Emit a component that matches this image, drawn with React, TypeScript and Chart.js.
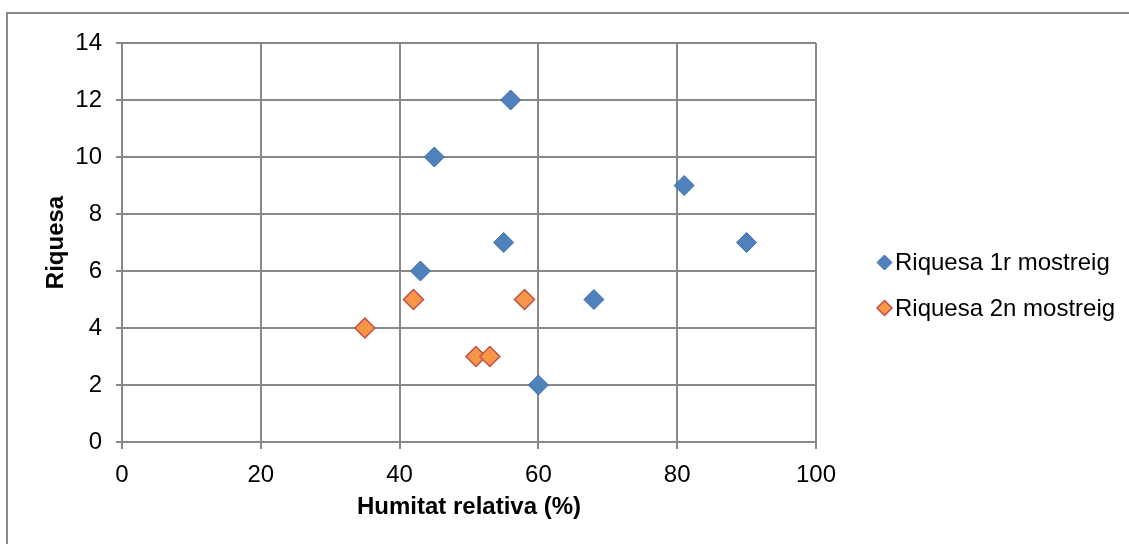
import React, { useEffect, useRef } from "react";
import { Chart, registerables } from "chart.js";

Chart.register(...registerables);

const series1Name = "Riquesa 1r mostreig";
const series2Name = "Riquesa 2n mostreig";
const series1X = [45, 56, 81, 90, 55, 43, 68, 60];
const series1Y = [10, 12, 9, 7, 7, 6, 5, 2];
const series2X = [35, 42, 58, 51, 53];
const series2Y = [4, 5, 5, 3, 3];
const xTitle = "Humitat relativa (%)";
const yTitle = "Riquesa";

const FONT = "'Liberation Sans', Arial, sans-serif";
const GRID = "#898989";
const FS = 24;

export default function App() {
  const ref = useRef<HTMLCanvasElement | null>(null);
  useEffect(() => {
    if (!ref.current) return;
    const frame = {
      id: "frame",
      beforeDraw(chart: any) {
        const ctx = chart.ctx;
        ctx.save();
        ctx.strokeStyle = GRID;
        ctx.lineWidth = 2;
        ctx.strokeRect(7, 13, 1300, 700);
        ctx.restore();
      },
      afterDraw(chart: any) {
        const ctx = chart.ctx;
        ctx.save();
        const items = chart.data.datasets;
        items.forEach((ds: any, i: number) => {
          const cx = 884.5;
          const cy = 262.5 + i * 45.5;
          const r = 7.5;
          ctx.beginPath();
          ctx.moveTo(cx - r, cy);
          ctx.lineTo(cx, cy - r);
          ctx.lineTo(cx + r, cy);
          ctx.lineTo(cx, cy + r);
          ctx.closePath();
          ctx.fillStyle = ds.backgroundColor;
          ctx.fill();
          ctx.strokeStyle = ds.borderColor;
          ctx.lineWidth = ds.borderWidth;
          ctx.stroke();
          ctx.fillStyle = "#000";
          ctx.font = `${FS}px ${FONT}`;
          ctx.textBaseline = "middle";
          ctx.textAlign = "left";
          ctx.fillText(ds.label, 895, cy + 1);
        });
        ctx.restore();
      },
    };
    const chart = new Chart(ref.current, {
      type: "scatter",
      data: {
        datasets: [
          {
            label: series1Name,
            data: series1X.map((x, i) => ({ x, y: series1Y[i] })),
            backgroundColor: "#4F81BD",
            borderColor: "#3D6DA8",
            borderWidth: 1,
            pointStyle: "rectRot",
            pointRadius: 10,
          },
          {
            label: series2Name,
            data: series2X.map((x, i) => ({ x, y: series2Y[i] })),
            backgroundColor: "#F79646",
            borderColor: "#C0504D",
            borderWidth: 1.5,
            pointStyle: "rectRot",
            pointRadius: 10,
          },
        ],
      },
      options: {
        responsive: false,
        animation: false,
        layout: { padding: { left: 0, top: 43, right: 313, bottom: 0 } },
        plugins: { legend: { display: false }, tooltip: { enabled: false } },
        scales: {
          x: {
            type: "linear",
            min: 0,
            max: 100,
            afterFit: (s: any) => { s.height = 102; },
            ticks: { stepSize: 20, color: "#000", padding: 12, font: { family: FONT, size: FS } },
            grid: { color: GRID, lineWidth: 2, tickLength: 7, tickColor: GRID },
            border: { color: GRID, width: 2 },
            title: {
              display: true,
              text: xTitle,
              color: "#000",
              font: { family: FONT, size: FS, weight: "bold" },
              padding: { top: 0, bottom: 22 },
            },
          },
          y: {
            type: "linear",
            min: 0,
            max: 14,
            afterFit: (s: any) => { s.width = 122; },
            ticks: { stepSize: 2, color: "#000", padding: 14, font: { family: FONT, size: FS } },
            grid: { color: GRID, lineWidth: 2, tickLength: 6, tickColor: GRID },
            border: { color: GRID, width: 2 },
            title: {
              display: true,
              text: yTitle,
              color: "#000",
              font: { family: FONT, size: FS, weight: "bold" },
              padding: { top: 42, bottom: 0 },
            },
          },
        },
      },
      plugins: [frame],
    } as any);
    return () => chart.destroy();
  }, []);
  return (
    <div style={{ position: "absolute", left: 0, top: 0, width: 1129, height: 544, background: "#fff" }}>
      <canvas ref={ref} width={1129} height={544} />
    </div>
  );
}
